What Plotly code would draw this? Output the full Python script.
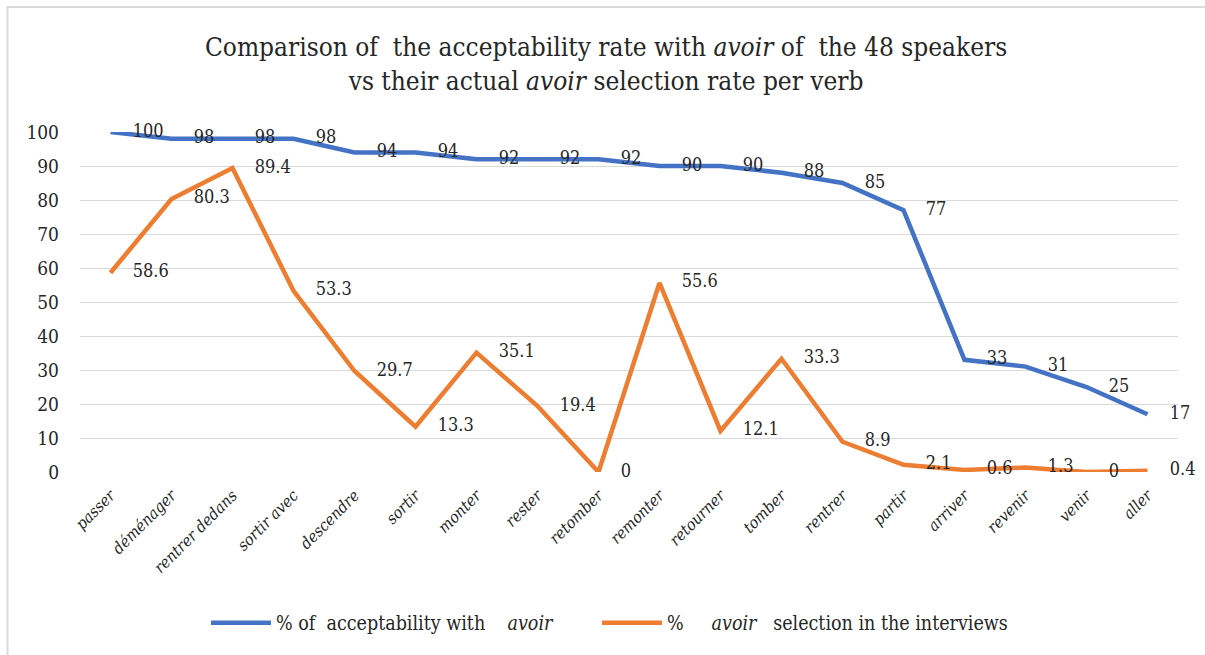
import plotly.graph_objects as go

verbs = ["passer", "déménager", "rentrer dedans", "sortir avec", "descendre", "sortir",
         "monter", "rester", "retomber", "remonter", "retourner", "tomber", "rentrer",
         "partir", "arriver", "revenir", "venir", "aller"]
acceptability = [100, 98, 98, 98, 94, 94, 92, 92, 92, 90, 90, 88, 85, 77, 33, 31, 25, 17]
selection = [58.6, 80.3, 89.4, 53.3, 29.7, 13.3, 35.1, 19.4, 0, 55.6, 12.1, 33.3, 8.9,
             2.1, 0.6, 1.3, 0, 0.4]
y_ticks = [0, 10, 20, 30, 40, 50, 60, 70, 80, 90, 100]

SERIF = "DejaVu Serif Condensed, DejaVu Serif, serif"
TEXT_COLOR = "#262626"

W, H = 1205, 655
L, R, T, B = 80, 27, 132, 183
pw, ph = W - L - R, H - T - B


def px_x(p):
    return (p - L) / pw


def px_y(p):
    return (H - B - p) / ph


fig = go.Figure()
fig.add_trace(go.Scatter(
    x=verbs, y=acceptability, mode="lines+markers+text",
    name="%\u00a0of\u00a0 acceptability with\u00a0\u00a0\u00a0 <i>avoir</i>",
    line=dict(color="#4472C4", width=4.5),
    marker=dict(size=34, color="rgba(0,0,0,0)"),
    text=[f"{v:g}" for v in acceptability], textposition="middle right",
    textfont=dict(family=SERIF, size=18, color=TEXT_COLOR),
    cliponaxis=False, hoverinfo="skip", legend="legend",
))
fig.add_trace(go.Scatter(
    x=verbs, y=selection, mode="lines+markers+text",
    name="%\u00a0\u00a0\u00a0\u00a0 <i>avoir</i>\u00a0\u00a0\u00a0selection in the interviews",
    line=dict(color="#ED7D31", width=4.5),
    marker=dict(size=34, color="rgba(0,0,0,0)"),
    text=[f"{v:g}" for v in selection], textposition="middle right",
    textfont=dict(family=SERIF, size=18, color=TEXT_COLOR),
    cliponaxis=False, hoverinfo="skip", legend="legend2",
))

legend_common = dict(
    orientation="h", xanchor="left", xref="container",
    y=1 - 623 / H, yanchor="middle", yref="container",
    font=dict(family=SERIF, size=19.5, color=TEXT_COLOR),
    itemwidth=60, bgcolor="rgba(0,0,0,0)",
)

fig.update_layout(
    width=W, height=H,
    margin=dict(l=L, r=R, t=T, b=B),
    paper_bgcolor="white", plot_bgcolor="white",
    font=dict(family=SERIF, color=TEXT_COLOR),
    title=dict(
        text="Comparison of\u00a0 the acceptability rate with <i>avoir</i> of\u00a0 the 48 speakers<br>vs their actual <i>avoir</i> selection rate per verb",
        font=dict(family=SERIF, size=26, color=TEXT_COLOR),
        x=0.503, xanchor="center", xref="container",
        y=0.914, yanchor="middle", yref="container",
    ),
    xaxis=dict(
        type="category", range=[-0.5, len(verbs) - 0.5],
        showgrid=False, showline=False, zeroline=False, ticks="",
        tickangle=-45, ticklabelstandoff=10,
        tickfont=dict(family=SERIF, size=16, style="italic", color=TEXT_COLOR),
    ),
    yaxis=dict(
        range=[0, 100], tickvals=y_ticks, showgrid=True, gridcolor="#D9D9D9", gridwidth=1.2,
        zeroline=False, showline=False, ticks="", ticklabelstandoff=20,
        tickfont=dict(family=SERIF, size=19, color=TEXT_COLOR),
    ),
    showlegend=True,
    legend=dict(x=206 / W, **legend_common),
    legend2=dict(x=597 / W, **legend_common),
    shapes=[
        dict(type="rect", xref="paper", yref="paper",
             x0=px_x(7.5), x1=px_x(1215), y0=px_y(665), y1=px_y(7),
             line=dict(color="#D9D9D9", width=2), layer="below"),
    ],
)

fig.write_html("out.html")
